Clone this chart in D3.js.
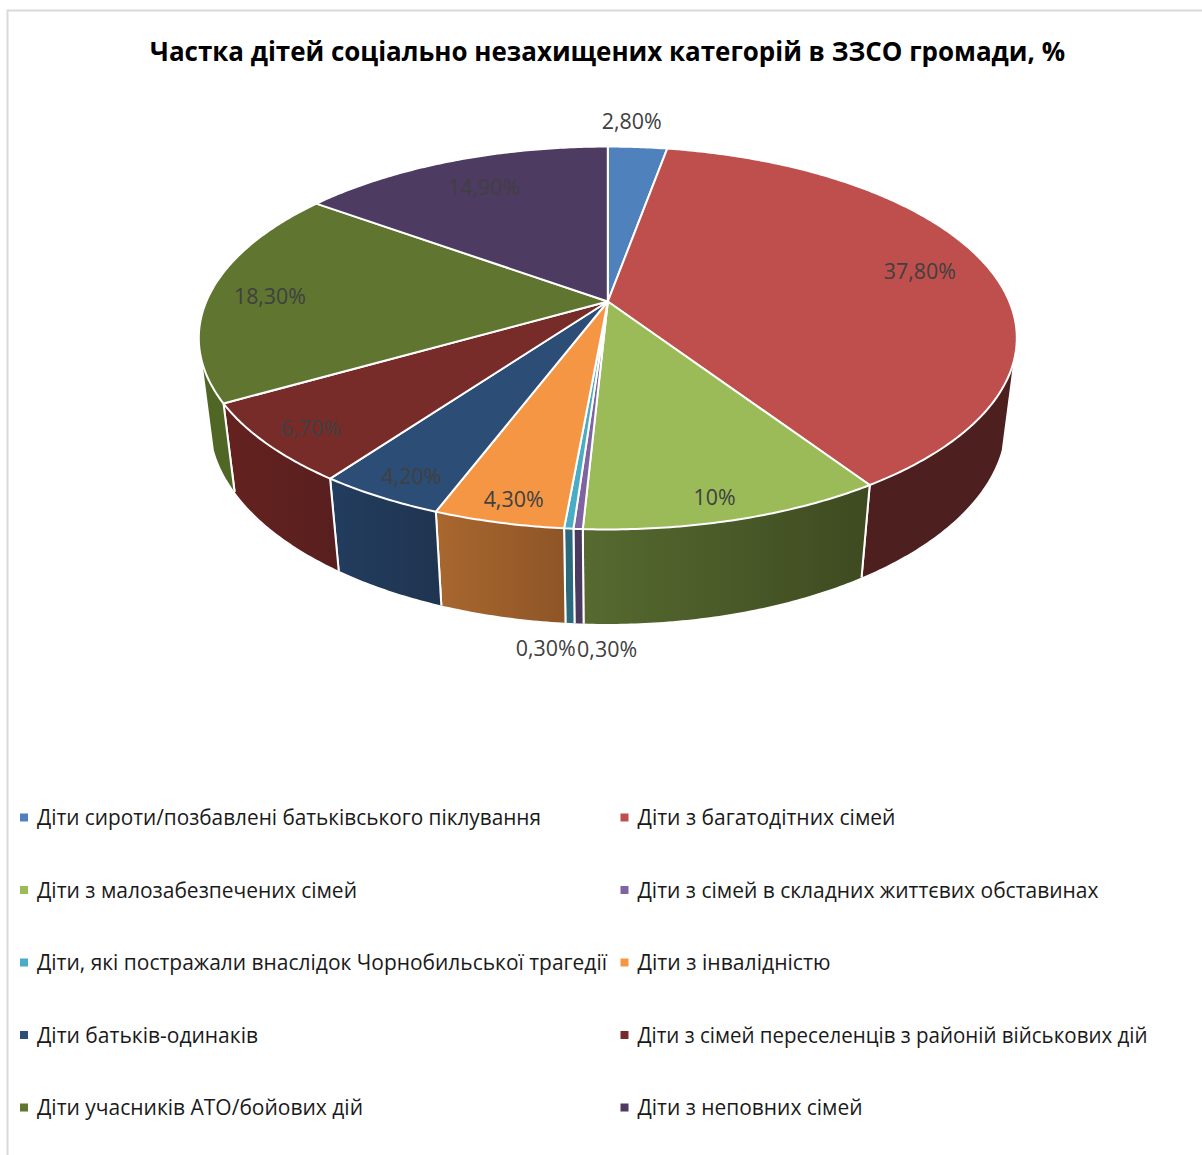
<!DOCTYPE html>
<html><head><meta charset="utf-8">
<script src="https://cdn.jsdelivr.net/npm/d3@7"></script>
<style>html,body{margin:0;padding:0;background:#fff}svg{display:block}text{font-family:"Open Sans",sans-serif}</style>
</head><body><svg id="c" width="1202" height="1155"></svg>
<script>
const titleText = "Частка дітей соціально незахищених категорій в ЗЗСО громади, %";
const categories = [
  "Діти сироти/позбавлені батьківського піклування",
  "Діти з багатодітних сімей",
  "Діти з малозабезпечених сімей",
  "Діти з сімей в складних життєвих обставинах",
  "Діти, які постражали внаслідок Чорнобильської трагедії",
  "Діти з інвалідністю",
  "Діти батьків-одинаків",
  "Діти з сімей переселенців з районій військових дій",
  "Діти учасників АТО/бойових дій",
  "Діти з неповних сімей"
];
const values = [2.8, 37.8, 10, 0.3, 0.3, 4.3, 4.2, 6.7, 18.3, 14.9];
const valueLabels = ["2,80%","37,80%","10%","0,30%","0,30%","4,30%","4,20%","6,70%","18,30%","14,90%"];
const topColors = ["#4f81bd","#be4f4c","#9bbb59","#8064a2","#4bacc6","#f59645","#2c4d75","#772c2a","#5f7530","#4d3b62"];
const wallFrom = ["#3c618f","#4d1f1e","#566a30","#4b3a60","#2a6a7c","#a9672f","#233d5f","#64221f","#4f6625","#3a2d4a"];
const wallTo   = ["#3c618f","#4d1f1e","#3e4a20","#4b3a60","#2a6a7c","#8e5527","#1f3450","#581f1e","#4f6625","#3a2d4a"];
// label placement: radial fraction, then nudges
const labelRadius = [1.21,0.837,0.916,1,1,0.914,0.908,0.903,0.85,0.79];
const labelDx = [-11,-7,-9,29,-23,4,7,7,0,3];
const labelDy = [0,0,-1,120,120,0,0,0,3,0];
const labelWidth = [60,72,42,60,60,60,60,60,72,72];
const legendWidth = [504,258,320,461,570,193,221,510,326,225];

const svg = d3.select("#c");
// frame
svg.append("path").attr("d","M7.5 1155V10.5H1202").attr("fill","none").attr("stroke","#d9d9d9").attr("stroke-width",2);

// perspective projection of a tilted disc
const cx=607.8, cy=301.5, A=401.5, B=184.5, K=0.1906, M=0.027, C=85.2;
function project(a,f,z){
  const x=f*Math.sin(a), y=-f*Math.cos(a), w=1-K*y+M*z;
  return [cx+A*x/w, cy+(B*y+C*z)/w];
}
const line=d3.line();
const pie=d3.pie().sort(null).startAngle(0).endAngle(2*Math.PI);
const arcs=pie(values);
const rad=d=>d*Math.PI/180;
const visA=rad(108.5), visB=rad(251.5);
const samples=(a,b)=>{const n=Math.max(2,Math.ceil((b-a)/0.01));return d3.range(n+1).map(i=>a+(b-a)*i/n);};

const defs=svg.append("defs");
// walls
const wallLayer=svg.append("g");
arcs.forEach((d,i)=>{
  const a=Math.max(d.startAngle,visA), b=Math.min(d.endAngle,visB);
  if(b<=a) return;
  const s=samples(a,b);
  const pts=s.map(t=>project(t,1,0)).concat(s.slice().reverse().map(t=>project(t,1,1)));
  const ex=d3.extent(pts,p=>p[0]);
  const g=defs.append("linearGradient").attr("id","w"+i).attr("gradientUnits","userSpaceOnUse")
    .attr("x1",ex[0]).attr("x2",ex[1]).attr("y1",0).attr("y2",0);
  g.append("stop").attr("offset",0).attr("stop-color",wallFrom[i]);
  g.append("stop").attr("offset",1).attr("stop-color",wallTo[i]);
  // fill
  wallLayer.append("path").attr("d",line(pts)+"Z").attr("fill",`url(#w${i})`);
  // separators only between slices
  [a,b].forEach(t=>{
    if(t===visA||t===visB) return;
    wallLayer.append("path").attr("d",line([project(t,1,0),project(t,1,1)])).attr("stroke","#fff").attr("stroke-width",2).attr("fill","none");
  });
});
// top face
const faceLayer=svg.append("g");
arcs.forEach((d,i)=>{
  const s=samples(d.startAngle,d.endAngle);
  const pts=[project(0,0,0)].concat(s.map(t=>project(t,1,0)));
  faceLayer.append("path").attr("d",line(pts)+"Z").attr("fill",topColors[i]).attr("stroke","#fff").attr("stroke-width",2).attr("stroke-linejoin","round");
});

function fit(sel,w){return sel.attr("textLength",w).attr("lengthAdjust","spacingAndGlyphs");}

// title
fit(svg.append("text").attr("x",607.5).attr("y",61).attr("text-anchor","middle")
  .attr("font-size",27).attr("font-weight",700).attr("fill","#000").text(titleText),915);

// data labels
arcs.forEach((d,i)=>{
  const p=project((d.startAngle+d.endAngle)/2,labelRadius[i],0);
  fit(svg.append("text").attr("x",p[0]+labelDx[i]).attr("y",p[1]+labelDy[i]).attr("dy","0.36em")
    .attr("text-anchor","middle").attr("font-size",22).attr("fill","#404040").text(valueLabels[i]),labelWidth[i]);
});

// legend
const rows=d3.scalePoint().domain(d3.range(5)).range([817.5,1107.5]);
const cols=d3.scalePoint().domain([0,1]).range([20,620.5]);
const leg=svg.append("g");
categories.forEach((c,i)=>{
  const r=Math.floor(i/2), k=i%2, x=cols(k), y=rows(r);
  leg.append("rect").attr("x",x).attr("y",y-4).attr("width",8).attr("height",8).attr("fill",topColors[i]);
  fit(leg.append("text").attr("x",x+17).attr("y",y).attr("dy","0.36em").attr("font-size",22).attr("fill","#1a1a1a").text(c),legendWidth[i]);
});
</script></body></html>
